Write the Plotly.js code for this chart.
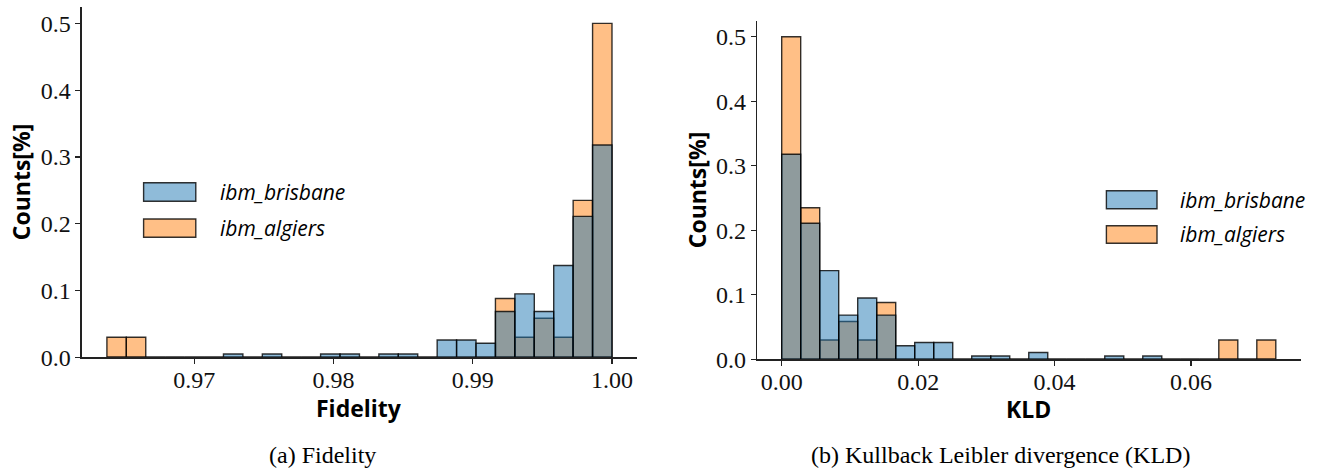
<!DOCTYPE html>
<html><head><meta charset="utf-8">
<script src="https://cdn.plot.ly/plotly-3.0.1.min.js"></script>
<style>html,body{margin:0;padding:0;background:#fff}#chart{width:1320px;height:472px}</style>
</head><body><div id="chart"></div>
<script>
// ---- data ----
const seriesNames = ['ibm_brisbane', 'ibm_algiers'];
const fidelityBinRange = [0.96373, 1.0];   // 26 common bins
const kldBinRange = [0.0, 0.07243];         // 26 common bins

const fidelityBrisbane = [0, 0, 0, 0, 0, 0, 0.005, 0, 0.005, 0, 0, 0.005, 0.005, 0,
  0.005, 0.005, 0, 0.026, 0.026, 0.021, 0.0685, 0.095, 0.0685, 0.1375, 0.211, 0.318];
const fidelityAlgiers = [0.03, 0.03, 0, 0, 0, 0, 0, 0, 0, 0, 0, 0, 0, 0,
  0, 0, 0, 0, 0, 0, 0.088, 0.03, 0.0585, 0.03, 0.235, 0.5];

const kldBrisbane = [0.318, 0.211, 0.1375, 0.0685, 0.095, 0.0685, 0.021, 0.026, 0.026, 0,
  0.005, 0.005, 0, 0.0105, 0, 0, 0, 0.005, 0, 0.005, 0, 0, 0, 0, 0, 0];
const kldAlgiers = [0.5, 0.235, 0.03, 0.0585, 0.03, 0.088, 0, 0, 0, 0,
  0, 0, 0, 0, 0, 0, 0, 0, 0, 0, 0, 0, 0, 0.03, 0, 0.03];

const fidelityTicks = [0.97, 0.98, 0.99, 1.00];
const fidelityTickText = ['0.97', '0.98', '0.99', '1.00'];
const kldTicks = [0.00, 0.02, 0.04, 0.06];
const kldTickText = ['0.00', '0.02', '0.04', '0.06'];
const countTicks = [0, 0.1, 0.2, 0.3, 0.4, 0.5];
const countTickText = ['0.0', '0.1', '0.2', '0.3', '0.4', '0.5'];

const xTitles = ['Fidelity', 'KLD'];
const yTitle = 'Counts[%]';
const captions = ['(a) Fidelity', '(b) Kullback Leibler divergence (KLD)'];

// ---- styling ----
const blueFill = 'rgba(31,119,180,0.5)';
const orangeFill = 'rgba(255,127,14,0.5)';
const edge = 'rgba(0,0,0,0.8)';
const serif = 'Liberation Serif, DejaVu Serif, serif';
const sans = 'Open Sans, Noto Sans, sans-serif';

function binCenters(range, n) {
  const w = (range[1] - range[0]) / n;
  return Array.from({length: n}, (_, i) => range[0] + (i + 0.5) * w);
}
function barTrace(range, vals, name, fill, xa, ya) {
  const w = (range[1] - range[0]) / vals.length;
  return {
    type: 'bar', x: binCenters(range, vals.length), y: vals, width: w,
    name: name, xaxis: xa, yaxis: ya, showlegend: false,
    marker: {color: fill, line: {color: edge, width: 1.4}},
    hoverinfo: 'x+y'
  };
}

const traces = [
  barTrace(fidelityBinRange, fidelityAlgiers, seriesNames[1], orangeFill, 'x', 'y'),
  barTrace(fidelityBinRange, fidelityBrisbane, seriesNames[0], blueFill, 'x', 'y'),
  barTrace(kldBinRange, kldAlgiers, seriesNames[1], orangeFill, 'x2', 'y2'),
  barTrace(kldBinRange, kldBrisbane, seriesNames[0], blueFill, 'x2', 'y2')
];

const tickFont = {family: serif, size: 24, color: '#111'};
const titleFont = {family: sans, size: 23, color: '#000', weight: 700};

function xAxis(domain, range, vals, text, anchor) {
  return {
    domain: domain, range: range, anchor: anchor,
    tickvals: vals, ticktext: text, ticks: 'outside', ticklen: 5, tickwidth: 1.2, tickcolor: '#222',
    showline: true, linecolor: '#222', linewidth: 1.25, showgrid: false, zeroline: false,
    tickfont: tickFont, ticklabelstandoff: -4
  };
}
function yAxis(domain, anchor) {
  return {
    domain: domain, range: [0, 0.525], anchor: anchor,
    tickvals: countTicks, ticktext: countTickText, ticks: 'outside', ticklen: 5, tickwidth: 1.2, tickcolor: '#222',
    showline: true, linecolor: '#222', linewidth: 1.25, showgrid: false, zeroline: false,
    tickfont: tickFont,
    title: {text: yTitle, font: titleFont, standoff: 3}
  };
}

function legendItems(x0, x1, yBlue, yOrange, tx, tyBlue, tyOrange) {
  const shapes = [
    {type: 'rect', xref: 'paper', yref: 'paper', x0: x0, x1: x1, y0: yBlue[0], y1: yBlue[1],
     fillcolor: blueFill, line: {color: edge, width: 1.4}},
    {type: 'rect', xref: 'paper', yref: 'paper', x0: x0, x1: x1, y0: yOrange[0], y1: yOrange[1],
     fillcolor: orangeFill, line: {color: edge, width: 1.4}}
  ];
  const lf = {family: sans, size: 21, color: '#000', style: 'italic'};
  const anns = [
    {xref: 'paper', yref: 'paper', x: tx, y: tyBlue, xanchor: 'left', yanchor: 'middle', showarrow: false, text: seriesNames[0], font: lf},
    {xref: 'paper', yref: 'paper', x: tx, y: tyOrange, xanchor: 'left', yanchor: 'middle', showarrow: false, text: seriesNames[1], font: lf}
  ];
  return {shapes, anns};
}

const legL = legendItems(0.10879, 0.14833, [0.57352, 0.61292], [0.49725, 0.53602], 0.16538, 0.59322, 0.51653);
const legR = legendItems(0.83818, 0.87652, [0.55784, 0.59597], [0.48453, 0.52182], 0.89273, 0.57691, 0.50318);

const capFont = {family: serif, size: 24, color: '#000'};
const annotations = [
  // x-axis titles
  {xref: 'x domain', yref: 'paper', x: 0.5, y: (472 - 407.5) / 472, xanchor: 'center', yanchor: 'middle', showarrow: false, text: xTitles[0], font: titleFont},
  {xref: 'x2 domain', yref: 'paper', x: 0.5, y: (472 - 409) / 472, xanchor: 'center', yanchor: 'middle', showarrow: false, text: xTitles[1], font: titleFont},
  // captions
  {xref: 'paper', yref: 'paper', x: 322.9 / 1320, y: 17 / 472, xanchor: 'center', yanchor: 'middle', showarrow: false, text: captions[0], font: capFont},
  {xref: 'paper', yref: 'paper', x: 1000.5 / 1320, y: 17 / 472, xanchor: 'center', yanchor: 'middle', showarrow: false, text: captions[1], font: capFont}
].concat(legL.anns, legR.anns);

const layout = {
  width: 1320, height: 472,
  margin: {l: 0, r: 0, t: 0, b: 0},
  paper_bgcolor: '#fff', plot_bgcolor: '#fff',
  barmode: 'overlay', bargap: 0,
  showlegend: false,
  xaxis: xAxis([0.06189, 0.48273], [0.96192, 1.00181], fidelityTicks, fidelityTickText, 'y'),
  yaxis: yAxis([0.24301, 0.98581], 'x'),
  xaxis2: xAxis([0.57348, 0.98523], [-0.00362, 0.07605], kldTicks, kldTickText, 'y2'),
  yaxis2: yAxis([0.23877, 0.95614], 'x2'),
  shapes: legL.shapes.concat(legR.shapes),
  annotations: annotations
};

Plotly.newPlot('chart', traces, layout, {displayModeBar: false, staticPlot: true});
</script>
</body></html>
